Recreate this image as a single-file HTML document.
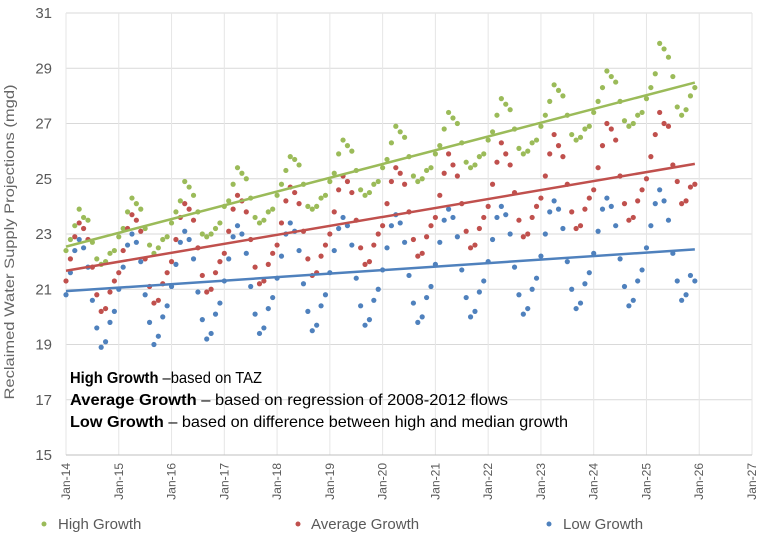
<!DOCTYPE html>
<html><head><meta charset="utf-8"><style>
body{margin:0;background:#fff;width:765px;height:543px;overflow:hidden;font-family:"Liberation Sans",sans-serif}
svg text{font-family:"Liberation Sans",sans-serif}
</style></head><body>
<svg id="chart" width="765" height="543" xmlns="http://www.w3.org/2000/svg">
<g id="grid"></g>
<g id="axes"></g>
<g id="marks"></g>
<text transform="translate(14,242) rotate(-90)" text-anchor="middle" font-size="14" fill="#666" textLength="315" lengthAdjust="spacingAndGlyphs">Reclaimed Water Supply Projections (mgd)</text>
<g font-size="16" fill="#000">
<text x="70" y="383" textLength="192" lengthAdjust="spacingAndGlyphs"><tspan font-weight="bold">High Growth</tspan> –based on TAZ</text>
<text x="70" y="405" textLength="438" lengthAdjust="spacingAndGlyphs"><tspan font-weight="bold">Average Growth</tspan> – based on regression of 2008-2012 flows</text>
<text x="70" y="427" textLength="498" lengthAdjust="spacingAndGlyphs"><tspan font-weight="bold">Low Growth</tspan> – based on difference between high and median growth</text>
</g>
<g font-size="15" fill="#595959">
<g><circle cx="44" cy="524" r="2.5" fill="#9bbb59"/><text x="58" y="529">High Growth</text></g>
<g><circle cx="298" cy="524" r="2.5" fill="#c0504d"/><text x="311" y="529">Average Growth</text></g>
<g><circle cx="549" cy="524" r="2.5" fill="#4f81bd"/><text x="563" y="529">Low Growth</text></g>
</g>
</svg>
<script>
const xTicks=["Jan-14","Jan-15","Jan-16","Jan-17","Jan-18","Jan-19","Jan-20","Jan-21","Jan-22","Jan-23","Jan-24","Jan-25","Jan-26","Jan-27"];
const yTicks=[15,17,19,21,23,25,27,29,31];
const highGrowth=[
22.4,22.8,23.3,23.9,23.6,23.5,22.7,22.1,21.9,22.0,22.3,22.4,
22.9,23.2,23.8,24.3,24.1,23.9,23.2,22.6,22.3,22.5,22.8,22.9,
23.4,23.8,24.2,24.9,24.7,24.4,23.8,23.0,22.9,23.0,23.2,23.4,
24.0,24.2,24.8,25.4,25.2,25.0,24.3,23.6,23.4,23.5,23.8,23.9,
24.4,24.8,25.3,25.8,25.7,25.5,24.8,24.0,23.9,24.0,24.3,24.4,
24.9,25.2,25.9,26.4,26.2,26.0,25.3,24.6,24.4,24.5,24.8,24.9,
25.4,25.7,26.3,26.9,26.7,26.5,25.8,25.1,24.9,25.0,25.3,25.4,
25.9,26.2,26.8,27.4,27.2,27.0,26.3,25.6,25.4,25.5,25.8,25.9,
26.4,26.7,27.3,27.9,27.7,27.5,26.8,26.1,25.9,26.0,26.3,26.4,
26.9,27.3,27.8,28.4,28.2,28.0,27.3,26.6,26.4,26.5,26.8,26.9,
27.4,27.8,28.3,28.9,28.7,28.5,27.8,27.1,26.9,27.0,27.3,27.4,
27.9,28.3,28.8,29.9,29.7,29.4,28.7,27.6,27.3,27.5,28.0,28.3];
const averageGrowth=[
21.3,22.1,22.9,23.4,23.2,22.8,21.8,20.8,20.2,20.3,20.9,21.3,
21.6,22.4,23.2,23.7,23.5,23.1,22.1,21.1,20.5,20.6,21.2,21.6,
22.0,22.8,23.6,24.1,23.9,23.5,22.5,21.5,20.9,21.0,21.6,22.0,
22.3,23.1,23.9,24.4,24.2,23.8,22.8,21.8,21.2,21.3,21.9,22.3,
22.6,23.4,24.2,24.7,24.5,24.1,23.1,22.1,21.5,21.6,22.2,22.6,
23.0,23.8,24.6,25.1,24.9,24.5,23.5,22.5,21.9,22.0,22.6,23.0,
23.3,24.1,24.9,25.4,25.2,24.8,23.8,22.8,22.2,22.3,22.9,23.3,
23.6,24.4,25.2,25.9,25.5,25.1,24.1,23.1,22.5,22.6,23.2,23.6,
24.0,24.8,25.6,26.3,25.9,25.5,24.5,23.5,22.9,23.0,23.6,24.0,
24.3,25.1,25.9,26.6,26.2,25.8,24.8,23.8,23.2,23.3,23.9,24.3,
24.6,25.4,26.2,27.0,26.8,26.4,25.1,24.1,23.5,23.6,24.2,24.6,
25.0,25.8,26.6,27.4,27.0,26.9,25.5,24.9,24.1,24.2,24.7,24.8];
const lowGrowth=[
20.8,21.6,22.4,22.8,22.5,21.8,20.6,19.6,18.9,19.1,19.8,20.2,
21.0,21.8,22.6,23.0,22.7,22.0,20.8,19.8,19.0,19.3,20.0,20.4,
21.1,21.9,22.7,23.1,22.8,22.1,20.9,19.9,19.2,19.4,20.1,20.5,
21.3,22.1,22.9,23.3,23.0,22.3,21.1,20.1,19.4,19.6,20.3,20.7,
21.4,22.2,23.0,23.4,23.1,22.4,21.2,20.2,19.5,19.7,20.4,20.8,
21.6,22.4,23.2,23.6,23.3,22.6,21.4,20.4,19.7,19.9,20.6,21.0,
21.7,22.5,23.3,23.7,23.4,22.7,21.5,20.5,19.8,20.0,20.7,21.1,
21.9,22.7,23.5,23.9,23.6,22.9,21.7,20.7,20.0,20.2,20.9,21.3,
22.0,22.8,23.6,24.0,23.7,23.0,21.8,20.8,20.1,20.3,21.0,21.4,
22.2,23.0,23.8,24.2,23.9,23.2,22.0,21.0,20.3,20.5,21.2,21.6,
22.3,23.1,23.9,24.3,24.0,23.3,22.1,21.1,20.4,20.6,21.3,21.7,
22.5,23.3,24.1,24.6,24.2,23.5,22.3,21.3,20.6,20.8,21.5,21.3];

const NS="http://www.w3.org/2000/svg";
const X0=66,YEARW=52.77,YTOP=13,YBOT=455,VMIN=15,VMAX=31,XR=752;
function xs(i){return X0+(i/12)*YEARW;}
function ys(v){return YBOT-(v-VMIN)/(VMAX-VMIN)*(YBOT-YTOP);}
function mk(tag,attrs,parent){const e=document.createElementNS(NS,tag);for(const k in attrs)e.setAttribute(k,attrs[k]);parent.appendChild(e);return e;}
const grid=document.getElementById('grid'),axes=document.getElementById('axes'),marks=document.getElementById('marks');
yTicks.forEach(v=>{
  const l=mk('line',{x1:X0,x2:XR,y1:ys(v),y2:ys(v),stroke:'#d9d9d9','stroke-width':1},grid);
  
  
  const t=mk('text',{x:52,y:ys(v)+5,'text-anchor':'end','font-size':15,fill:'#595959'},axes);
  t.textContent=v;
  
  
});
xTicks.forEach((s,k)=>{
  const x=X0+k*YEARW;
  const l=mk('line',{x1:x,x2:x,y1:YTOP,y2:YBOT,stroke:'#e6e6e6','stroke-width':1},grid);
  
  
  const t=mk('text',{transform:`translate(${x+4},${YBOT+8}) rotate(-90)`,'text-anchor':'end','font-size':12,fill:'#595959'},axes);
  t.textContent=s;
  
  
});
const ax=mk('line',{x1:X0,x2:XR,y1:YBOT,y2:YBOT,stroke:'#bfbfbf','stroke-width':1},axes);


const series=[[highGrowth,'#9bbb59','high'],[averageGrowth,'#c0504d','average'],[lowGrowth,'#4f81bd','low']];
series.forEach(([d,c,n])=>{
  d.forEach((v,i)=>{
    const p=mk('circle',{cx:xs(i),cy:ys(v),r:2.6,fill:c},marks);
    
    
  });
});
series.forEach(([d,c,n])=>{
  const N=d.length;let sx=0,sy=0,sxx=0,sxy=0;
  d.forEach((v,i)=>{sx+=i;sy+=v;sxx+=i*i;sxy+=i*v;});
  const b=(N*sxy-sx*sy)/(N*sxx-sx*sx),a=(sy-b*sx)/N;
  const l=mk('line',{x1:xs(0),y1:ys(a),x2:xs(N-1),y2:ys(a+b*(N-1)),stroke:c,'stroke-width':2.5},marks);
  
  
});
</script>
</body></html>
